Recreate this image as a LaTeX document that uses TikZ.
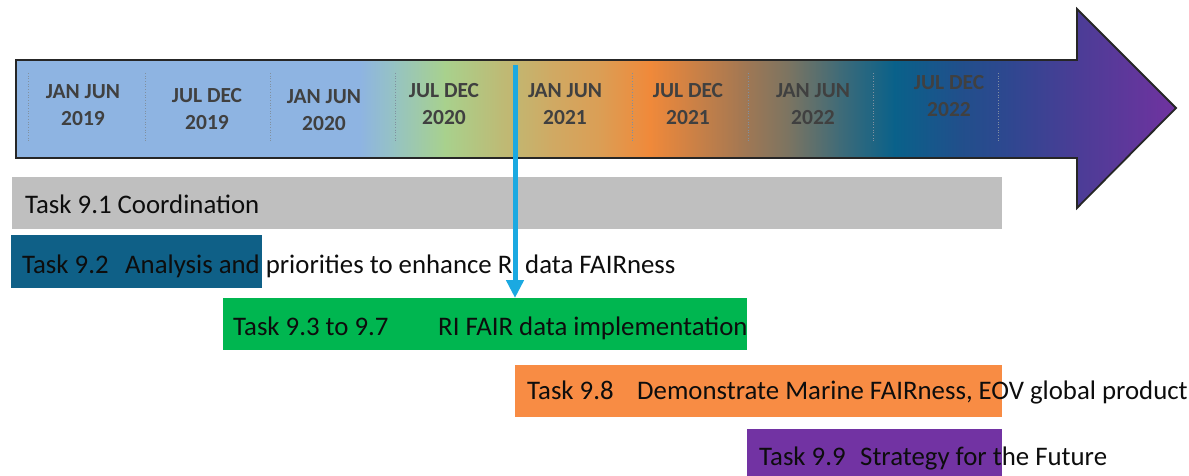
\documentclass[tikz,border=0pt]{standalone}
\usepackage{fontspec}
\setmainfont{Carlito}
\usetikzlibrary{arrows.meta}
\definecolor{s1}{HTML}{8EB4E2}
\definecolor{s2}{HTML}{8EB4E2}
\definecolor{s3}{HTML}{96C3C2}
\definecolor{s4}{HTML}{A8D18D}
\definecolor{s5}{HTML}{BDBB76}
\definecolor{s6}{HTML}{CFAA64}
\definecolor{s7}{HTML}{DB9E55}
\definecolor{s8}{HTML}{F0893A}
\definecolor{s9}{HTML}{A57852}
\definecolor{s10}{HTML}{7A7462}
\definecolor{s11}{HTML}{3F6B78}
\definecolor{s12}{HTML}{09618A}
\definecolor{s13}{HTML}{214F8B}
\definecolor{s14}{HTML}{2F4790}
\definecolor{s15}{HTML}{4A3D96}
\definecolor{s16}{HTML}{7232A0}
\definecolor{hdrtext}{HTML}{404040}
\definecolor{outline}{HTML}{262626}
\definecolor{divgray}{HTML}{8090A0}
\definecolor{arrowblue}{HTML}{1BA9E1}
\definecolor{bargray}{HTML}{BFBFBF}
\definecolor{barblue}{HTML}{0F6087}
\definecolor{bargreen}{HTML}{00B650}
\definecolor{barorange}{HTML}{F88C44}
\definecolor{barpurple}{HTML}{7233A3}
\definecolor{tasktext}{HTML}{0D0D0D}
\begin{document}
\begin{tikzpicture}[x=1pt,y=-1pt,
  hdr/.style={align=center,text=hdrtext,inner sep=0pt,
    font=\fontsize{21.5}{27}\selectfont\bfseries},
  bar/.style={anchor=north west,inner sep=0pt,outer sep=0pt,draw=none},
  tasklabel/.style={anchor=base west,inner sep=0pt,text=tasktext,
    font=\fontsize{26.8}{32}\selectfont},
  divider/.style={divgray,dotted,line width=0.7pt}]
\useasboundingbox (0,0) rectangle (1189,476);
% timeline arrow with gradient
\begin{scope}
\clip (16,60) -- (1077,60) -- (1077,9) -- (1176,108) -- (1077,208) -- (1077,158) -- (16,158) -- cycle;
\foreach \xa/\ca/\xb/\cb in {10/s1/360/s2, 360/s2/395/s3, 395/s3/445/s4, 445/s4/500/s5,
  500/s5/550/s6, 550/s6/600/s7, 600/s7/650/s8, 650/s8/740/s9, 740/s9/790/s10,
  790/s10/840/s11, 840/s11/895/s12, 895/s12/960/s13, 960/s13/1010/s14,
  1010/s14/1075/s15, 1075/s15/1180/s16}
  \shade[left color=\ca,right color=\cb] (\xa-0.5,0) rectangle (\xb+0.5,220);
\end{scope}
\draw[outline,line width=1.8pt,line join=miter]
  (16,60) -- (1077,60) -- (1077,9) -- (1176,108) -- (1077,208) -- (1077,158) -- (16,158) -- cycle;
% dividers
\foreach \dx in {28,145,270,395,515,632,748,873,998}
  \draw[divider] (\dx,73) -- (\dx,143);
% period labels
\node[hdr] (h1) at (83,105) {JAN JUN\\2019};
\node[hdr] (h2) at (207,109) {JUL DEC\\2019};
\node[hdr] (h3) at (324,110) {JAN JUN\\2020};
\node[hdr] (h4) at (444,104) {JUL DEC\\2020};
\node[hdr] (h5) at (565,104) {JAN JUN\\2021};
\node[hdr] (h6) at (688,104) {JUL DEC\\2021};
\node[hdr] (h7) at (813,104) {JAN JUN\\2022};
\node[hdr] (h8) at (949,96) {JUL DEC\\2022};
% task bars
\node[bar,fill=bargray,minimum width=990pt,minimum height=52pt] (b1) at (12,177) {};
\node[bar,fill=barblue,minimum width=251pt,minimum height=53pt] (b2) at (11,235) {};
\node[bar,fill=bargreen,minimum width=524pt,minimum height=52pt] (b3) at (223,298) {};
\node[bar,fill=barorange,minimum width=487pt,minimum height=52pt] (b4) at (515,365) {};
\node[bar,fill=barpurple,minimum width=255pt,minimum height=47pt] (b5) at (747,429) {};
% task texts
\node[tasklabel] (t1) at (25,213) {Task 9.1 Coordination};
\node[tasklabel] (t2a) at (22,273) {Task 9.2};
\node[tasklabel] (t2b) at (125,273) {Analysis and priorities to enhance RI data FAIRness};
\node[tasklabel] (t3a) at (233,335) {Task 9.3 to 9.7};
\node[tasklabel] (t3b) at (438,335) {RI FAIR data implementation};
\node[tasklabel] (t4a) at (527,399) {Task 9.8};
\node[tasklabel] (t4b) at (637,399) {Demonstrate Marine FAIRness, EOV global product};
\node[tasklabel] (t5a) at (759,465) {Task 9.9};
\node[tasklabel] (t5b) at (860,465) {Strategy for the Future};
% now marker
\coordinate (now) at (515,65);
\draw[arrowblue,line width=5pt,-{Triangle[width=17pt,length=18pt]}] (now) -- (now |- b3.north);
\end{tikzpicture}
\end{document}
